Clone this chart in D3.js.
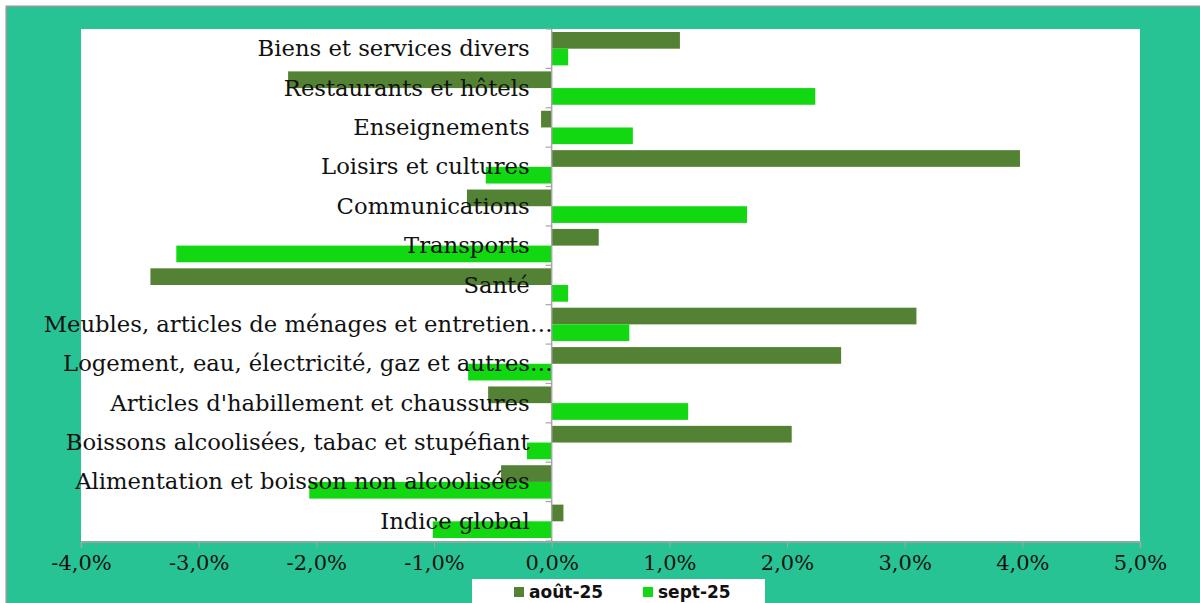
<!DOCTYPE html>
<html lang="fr">
<head>
<meta charset="utf-8">
<title>Variation des prix par fonction</title>
<script src="https://cdn.jsdelivr.net/npm/d3@7"></script>
<style>
  html, body { margin: 0; padding: 0; background: #fff; }
  svg { display: block; }
  .cat { font-family: "DejaVu Serif", serif; font-size: 22.7px; fill: #111; }
  .tick text { font-family: "DejaVu Serif", serif; font-size: 21px; fill: #111; }
  .leg { font-family: "DejaVu Sans", sans-serif; font-weight: bold; font-size: 17px; fill: #111; }
</style>
</head>
<body>
<script>
// categories, top to bottom
const categories = [
  "Biens et services divers",
  "Restaurants et hôtels",
  "Enseignements",
  "Loisirs et cultures",
  "Communications",
  "Transports",
  "Santé",
  "Meubles, articles de ménages et entretien…",
  "Logement, eau, électricité, gaz et autres…",
  "Articles d'habillement et chaussures",
  "Boissons alcoolisées, tabac et stupéfiant",
  "Alimentation et boisson non alcoolisées",
  "Indice global"
];
const series = ["août-25", "sept-25"];
const aout25 = [1.09, -2.24, -0.09, 3.98, -0.72, 0.40, -3.41, 3.10, 2.46, -0.54, 2.04, -0.43, 0.10];
const sept25 = [0.14, 2.24, 0.69, -0.56, 1.66, -3.19, 0.14, 0.66, -0.71, 1.16, -0.21, -2.06, -1.01];
const xTicks = [-4, -3, -2, -1, 0, 1, 2, 3, 4, 5];

const colors = { "août-25": "#548235", "sept-25": "#11d811" };
const W = 1200, H = 603;
const plot = { left: 81, right: 1140, top: 29, bottom: 541 };

const svg = d3.select("body").append("svg").attr("width", W).attr("height", H);

// outer frame
svg.append("rect").attr("x", 6.2).attr("y", 6.2).attr("width", W).attr("height", H)
  .attr("fill", "#27c394").attr("stroke", "#9a9a9a").attr("stroke-width", 1.5);
svg.append("rect").attr("x", plot.left).attr("y", plot.top)
  .attr("width", plot.right - plot.left).attr("height", plot.bottom - plot.top)
  .attr("fill", "#fff");

const x = d3.scaleLinear().domain([-4, 5]).range([plot.left, plot.right]);
const y = d3.scaleBand().domain(categories).range([plot.top, plot.bottom]);
const y1 = d3.scaleBand().domain(series).range([0, y.bandwidth()]).paddingOuter(0.18);

const rows = categories.map((c, i) => ({ cat: c, vals: [
  { s: "août-25", v: aout25[i] }, { s: "sept-25", v: sept25[i] }] }));

// bars
const g = svg.append("g");
g.selectAll("g.row").data(rows).enter().append("g")
  .attr("transform", d => "translate(0," + y(d.cat) + ")")
  .selectAll("rect").data(d => d.vals).enter().append("rect")
  .attr("x", d => x(Math.min(0, d.v)))
  .attr("width", d => Math.abs(x(d.v) - x(0)))
  .attr("y", d => y1(d.s))
  .attr("height", y1.bandwidth())
  .attr("fill", d => colors[d.s]);

// x axis
const xAxis = d3.axisBottom(x).tickValues(xTicks).tickSizeOuter(0).tickSize(6).tickPadding(8)
  .tickFormat(d => d.toFixed(1).replace(".", ",") + "%");
const xa = svg.append("g").attr("transform", "translate(0," + (plot.bottom + 0.5) + ")").call(xAxis);
xa.select(".domain").attr("stroke", "#a6a6a6").attr("stroke-width", 1.5);
xa.selectAll(".tick line").attr("stroke", "#a6a6a6");

// y axis at zero, ticks on band edges
const edges = categories.map(c => y(c)).concat([plot.bottom]);
svg.append("line").attr("x1", x(0)).attr("x2", x(0)).attr("y1", plot.top).attr("y2", plot.bottom)
  .attr("stroke", "#a6a6a6").attr("stroke-width", 1.5);
svg.selectAll("line.ytick").data(edges).enter().append("line")
  .attr("x1", x(0) - 6).attr("x2", x(0)).attr("y1", d => d).attr("y2", d => d)
  .attr("stroke", "#a6a6a6").attr("stroke-width", 1.2);

// category labels, drawn above the bars
svg.selectAll("text.cat").data(categories).enter().append("text")
  .attr("class", "cat")
  .attr("text-anchor", "end")
  .attr("x", d => d.endsWith("…") ? x(0) + 1 : x(0) - 22)
  .attr("y", d => y(d) + y.bandwidth() / 2 + 7.5)
  .text(d => d);

// legend
const leg = svg.append("g");
leg.append("rect").attr("x", 472).attr("y", 579).attr("width", 293).attr("height", 30).attr("fill", "#fff");
const items = leg.selectAll("g.item").data(series).enter().append("g")
  .attr("transform", (d, i) => "translate(" + (514 + i * 129) + ",587)");
items.append("rect").attr("width", 10).attr("height", 10).attr("fill", d => colors[d]);
items.append("text").attr("class", "leg").attr("x", 15).attr("y", 10.5).text(d => d);
</script>
</body>
</html>
